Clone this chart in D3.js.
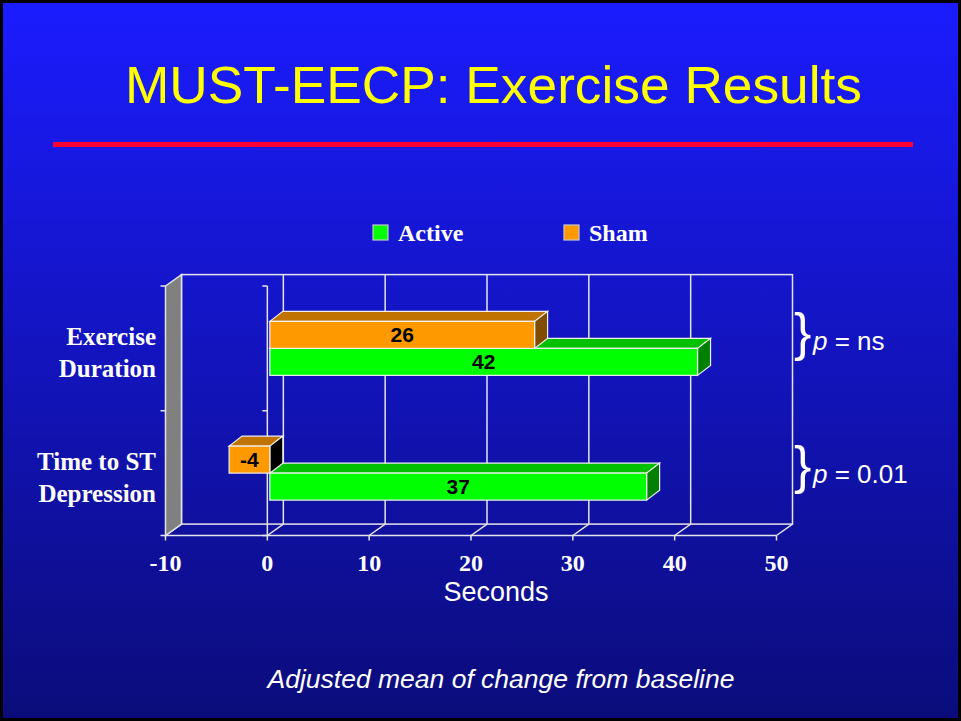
<!DOCTYPE html>
<html>
<head>
<meta charset="utf-8">
<script src="https://cdn.jsdelivr.net/npm/d3@7/dist/d3.min.js"></script>
<style>
  html, body { margin: 0; padding: 0; background: #000; }
  svg { display: block; }
</style>
</head>
<body>
<script>
// ---- data ----
const categories = ["Exercise Duration", "Time to ST Depression"];
const categoryLines = [["Exercise", "Duration"], ["Time to ST", "Depression"]];
const seriesNames = ["Active", "Sham"];
const activeValues = [42, 37];
const shamValues = [26, -4];
const xTickValues = [-10, 0, 10, 20, 30, 40, 50];
const pValues = ["ns", "0.01"];
const titleText = "MUST-EECP: Exercise Results";
const axisTitle = "Seconds";
const footnote = "Adjusted mean of change from baseline";

const W = 961, H = 721;
const svg = d3.select("body").append("svg").attr("width", W).attr("height", H);

// background
const defs = svg.append("defs");
const grad = defs.append("linearGradient").attr("id", "bg").attr("x1", 0).attr("y1", 0).attr("x2", 0).attr("y2", 1);
grad.append("stop").attr("offset", "0%").attr("stop-color", "#1b1cff");
grad.append("stop").attr("offset", "100%").attr("stop-color", "#0b0c7a");
svg.append("rect").attr("x", 0).attr("y", 0).attr("width", W).attr("height", H).attr("fill", "url(#bg)");
svg.append("rect").attr("x", 1.5).attr("y", 1.5).attr("width", W - 3).attr("height", H - 3)
  .attr("fill", "none").attr("stroke", "#000").attr("stroke-width", 3);

// title + rule
svg.append("text").attr("x", 493.5).attr("y", 103).attr("text-anchor", "middle")
  .attr("font-family", "Liberation Sans, Arial, sans-serif").attr("font-size", 52)
  .attr("fill", "#ffff00").attr("textLength", 737).attr("lengthAdjust", "spacingAndGlyphs")
  .text(titleText);
svg.append("rect").attr("x", 53).attr("y", 142).attr("width", 860).attr("height", 5).attr("fill", "#ff0033");

// ---- 3D plot geometry ----
const xF = d3.scaleLinear().domain([-10, 50]).range([165.5, 776.5]); // front plane
const yTop = 286, yBot = 535.5;                                      // front plane
const DX = 16, DY = -11.4;                                           // depth of walls
const yBand = d3.scaleBand().domain(categories).range([yTop, yBot]).paddingInner(0).paddingOuter(0);
const barH = 27;
const barOff = [2.5, 0];     // bar front face offset from front plane
const barDepth = [13, -10];  // bar depth
const gridCol = "#e4e4ec";

const plot = svg.append("g");

// back wall with vertical gridlines
plot.append("rect").attr("x", xF(-10) + DX).attr("y", yTop + DY)
  .attr("width", xF(50) - xF(-10)).attr("height", yBot - yTop)
  .attr("fill", "none").attr("stroke", gridCol).attr("stroke-width", 1.5);
plot.selectAll("line.grid").data(xTickValues.slice(1, -1)).join("line").attr("class", "grid")
  .attr("x1", d => xF(d) + DX).attr("x2", d => xF(d) + DX)
  .attr("y1", yTop + DY).attr("y2", yBot + DY)
  .attr("stroke", gridCol).attr("stroke-width", 1.5);

// floor
plot.append("line").attr("x1", xF(-10)).attr("x2", xF(50)).attr("y1", yBot).attr("y2", yBot)
  .attr("stroke", gridCol).attr("stroke-width", 1.5);
plot.selectAll("line.floor").data(xTickValues).join("line").attr("class", "floor")
  .attr("x1", d => xF(d)).attr("y1", yBot).attr("x2", d => xF(d) + DX).attr("y2", yBot + DY)
  .attr("stroke", gridCol).attr("stroke-width", 1.5);
// value axis ticks
plot.selectAll("line.xtick").data(xTickValues).join("line").attr("class", "xtick")
  .attr("x1", d => xF(d)).attr("x2", d => xF(d)).attr("y1", yBot).attr("y2", yBot + 5)
  .attr("stroke", gridCol).attr("stroke-width", 1.5);

// left side wall
plot.append("path")
  .attr("d", `M${xF(-10)},${yTop}L${xF(-10) + DX},${yTop + DY}L${xF(-10) + DX},${yBot + DY}L${xF(-10)},${yBot}Z`)
  .attr("fill", "#808080").attr("stroke", gridCol).attr("stroke-width", 1.5);

// category tick marks (wall edge and zero axis)
const catBounds = [yTop, yBand(categories[1]), yBot];
[xF(-10), xF(0)].forEach(x0 => {
  plot.selectAll(null).data(catBounds).join("line")
    .attr("x1", x0 - 5).attr("x2", x0).attr("y1", d => d).attr("y2", d => d)
    .attr("stroke", gridCol).attr("stroke-width", 1.5);
});
plot.append("line").attr("x1", xF(0)).attr("x2", xF(0)).attr("y1", yTop).attr("y2", yBot)
  .attr("stroke", gridCol).attr("stroke-width", 1.5);

// ---- bars ----
const palette = {
  Active: { front: "#00ff00", top: "#00c000", side: "#008000" },
  Sham:   { front: "#ff9900", top: "#c07300", side: "#804d00" }
};
const ySeries = d3.scaleBand().domain(["Sham", "Active"]).range([-barH, barH]);

const bars = [];
categories.forEach((c, i) => {
  bars.push({ cat: c, series: "Active", value: activeValues[i] });
  bars.push({ cat: c, series: "Sham", value: shamValues[i] });
});

const barG = plot.selectAll("g.bar").data(bars).join("g").attr("class", "bar");
barG.each(function(d) {
  const g = d3.select(this);
  const col = palette[d.series];
  const x0 = xF(Math.min(0, d.value)) + barOff[0];
  const x1 = xF(Math.max(0, d.value)) + barOff[0];
  const yc = yBand(d.cat) + yBand.bandwidth() / 2;
  const y0 = yc + ySeries(d.series);
  const y1 = y0 + ySeries.bandwidth();
  const [bx, by] = barDepth;
  // top face
  g.append("path").attr("d", `M${x0},${y0}L${x0 + bx},${y0 + by}L${x1 + bx},${y0 + by}L${x1},${y0}Z`)
    .attr("fill", col.top).attr("stroke", "#f0f0f0").attr("stroke-width", 1.2);
  // end face
  g.append("path").attr("d", `M${x1},${y0}L${x1 + bx},${y0 + by}L${x1 + bx},${y1 + by}L${x1},${y1}Z`)
    .attr("fill", d.value < 0 ? "#000" : col.side).attr("stroke", "#f0f0f0").attr("stroke-width", 1.2);
  // front face
  g.append("rect").attr("x", x0).attr("y", y0).attr("width", x1 - x0).attr("height", y1 - y0)
    .attr("fill", col.front).attr("stroke", "#f0f0f0").attr("stroke-width", 1.2);
  // value label
  g.append("text").attr("x", (x0 + x1) / 2).attr("y", (y0 + y1) / 2 + 7.5)
    .attr("text-anchor", "middle").attr("font-family", "Liberation Sans, Arial, sans-serif")
    .attr("font-weight", "bold").attr("font-size", 21).attr("fill", "#000")
    .text(d.value);
});

// ---- axis labels ----
svg.selectAll("text.xtl").data(xTickValues).join("text").attr("class", "xtl")
  .attr("x", d => xF(d)).attr("y", 571).attr("text-anchor", "middle")
  .attr("font-family", "Liberation Serif, Times New Roman, serif").attr("font-weight", "bold")
  .attr("font-size", 24).attr("fill", "#fff").text(d => d);
svg.append("text").attr("x", 496).attr("y", 601).attr("text-anchor", "middle")
  .attr("font-family", "Liberation Sans, Arial, sans-serif").attr("font-size", 27)
  .attr("fill", "#fff").text(axisTitle);

categories.forEach((c, i) => {
  const yc = yBand(c) + yBand.bandwidth() / 2;
  const t = svg.append("text").attr("text-anchor", "end")
    .attr("font-family", "Liberation Serif, Times New Roman, serif").attr("font-weight", "bold")
    .attr("font-size", 25).attr("fill", "#fff");
  categoryLines[i].forEach((line, k) => {
    t.append("tspan").attr("x", 156).attr("y", yc - 3 + k * 32).text(line);
  });
});

// ---- legend ----
const legendX = [373, 564];
seriesNames.forEach((s, i) => {
  svg.append("rect").attr("x", legendX[i]).attr("y", 225).attr("width", 15).attr("height", 15)
    .attr("fill", palette[s].front).attr("stroke", "#c8c8c8").attr("stroke-width", 1.2);
  svg.append("text").attr("x", legendX[i] + 25).attr("y", 241)
    .attr("font-family", "Liberation Serif, Times New Roman, serif").attr("font-weight", "bold")
    .attr("font-size", 24).attr("fill", "#fff").text(s);
});

// ---- significance brackets ----
const pBaselines = [350, 483];
pValues.forEach((pv, i) => {
  svg.append("text").attr("x", 794).attr("y", pBaselines[i]).attr("font-family", "Liberation Sans, Arial, sans-serif")
    .attr("font-size", 52).attr("fill", "#fff").text("}");
  const t = svg.append("text").attr("x", 813).attr("y", pBaselines[i])
    .attr("font-family", "Liberation Sans, Arial, sans-serif").attr("font-size", 26).attr("fill", "#fff");
  t.append("tspan").attr("font-style", "italic").text("p");
  t.append("tspan").text(" = " + pv);
});

// ---- footnote ----
svg.append("text").attr("x", 501).attr("y", 688).attr("text-anchor", "middle")
  .attr("font-family", "Liberation Sans, Arial, sans-serif").attr("font-style", "italic")
  .attr("font-size", 26.5).attr("fill", "#fff").text(footnote);
</script>
</body>
</html>
